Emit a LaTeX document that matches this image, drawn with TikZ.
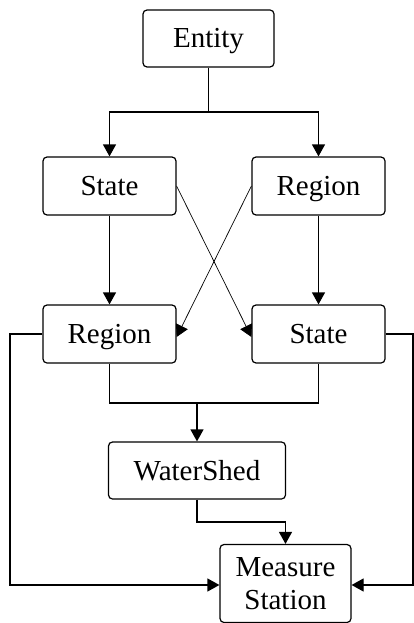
\documentclass[tikz,border=0pt]{standalone}
\usepackage{fontspec}
\setmainfont{Liberation Serif}
\usetikzlibrary{arrows.meta}
\tikzset{
	box/.style={draw, line width=1.2pt, rounded corners=4pt, minimum width=133pt, minimum height=58pt, inner sep=0pt, font=\fontsize{29}{33}\selectfont, align=center, text height=19pt, text depth=0pt},
	link/.style={line width=1.2pt, -{Triangle[width=13pt,length=12pt]}}
}

\begin{document}
\begin{tikzpicture}[x=1pt, y=-1pt]
		%%%%% START %%%%%
		
		\useasboundingbox (0, 0) rectangle (414, 623);
		
		\node[box, minimum width=131pt, minimum height=57pt] (entity) at (208.5, 38.5) {Entity};
		\node[box] (stateA) at (109.5, 186) {State};
		\node[box] (regionA) at (318.5, 186) {Region};
		\node[box] (regionB) at (109.5, 334) {Region};
		\node[box] (stateB) at (318.5, 334) {State};
		\node[box, minimum width=177pt, minimum height=57pt] (watershed) at (197, 470.5) {WaterShed};
		\node[box, minimum width=131pt, minimum height=78pt, text height=, text depth=] (station) at (285.5, 583.5) {Measure\\Station};
		
		\coordinate (split) at (208.5, 112);
		\coordinate (merge) at (197, 403);
		\coordinate (bend) at (285.5, 522);
		\coordinate (leftfoot) at (10, 585);
		\coordinate (rightfoot) at (413, 585);
		
		\draw[line width=1.2pt] (entity.south) -- (split);
		\draw[link] (split) -| (stateA.north);
		\draw[link] (split) -| (regionA.north);
		
		\draw[link] (stateA.south) -- (regionB.north);
		\draw[link] (regionA.south) -- (stateB.north);
		\draw[link, line width=0.7pt] (stateA.east) -- ([yshift=-3pt]stateB.west);
		\draw[link, line width=0.7pt] (regionA.west) -- ([yshift=-3pt]regionB.east);
		
		\draw[line width=1.2pt] (regionB.south) |- (merge) -| (stateB.south);
		\draw[link] (merge) -- (watershed.north);
		\draw[line width=1.2pt] (watershed.south) |- (bend);
		\draw[link] (bend) -- (station.north);
		
		\draw[link] (regionB.west) -| (leftfoot) -- (leftfoot -| station.west);
		\draw[link] (stateB.east) -| (rightfoot) -- (rightfoot -| station.east);
		
		%%%%% END %%%%%
	\end{tikzpicture}
\end{document}
